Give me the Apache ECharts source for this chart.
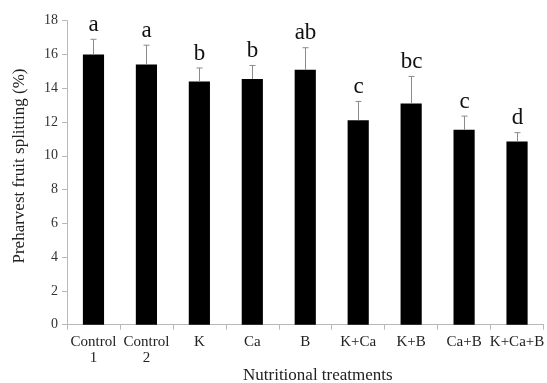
<!DOCTYPE html>
<html><head><meta charset="utf-8">
<script src="https://cdn.jsdelivr.net/npm/echarts@6/dist/echarts.min.js"></script>
<style>html,body{margin:0;padding:0;background:#fff}#c{width:547px;height:383px}</style>
</head><body><div id="c"></div>
<script>
var categories = ['Control\n1','Control\n2','K','Ca','B','K+Ca','K+B','Ca+B','K+Ca+B'];
var means = [16.0, 15.4, 14.4, 14.55, 15.1, 12.1, 13.1, 11.55, 10.85];
var errors = [0.9, 1.15, 0.8, 0.8, 1.3, 1.12, 1.6, 0.8, 0.52];
var letters = ['a','a','b','b','ab','c','bc','c','d'];
var yTicks = [0,2,4,6,8,10,12,14,16,18];

var chart = echarts.init(document.getElementById('c'));
var font = 'Liberation Serif';
chart.setOption({
  animation: false,
  textStyle: {fontFamily: font},
  grid: {left: 67, top: 20.7, width: 481, height: 304},
  xAxis: {
    type: 'category', data: categories,
    axisLine: {lineStyle: {color: '#b8b8b8', width: 1}},
    axisTick: {show: true, length: 5, lineStyle: {color: '#b8b8b8'}},
    axisLabel: {color: '#222', fontFamily: font, fontSize: 15, lineHeight: 16, margin: 9, interval: 0}
  },
  yAxis: {
    type: 'value', min: 0, max: 18, interval: 2,
    splitLine: {show: false},
    axisLine: {show: true, lineStyle: {color: '#b8b8b8', width: 1}},
    axisTick: {show: true, length: 5, lineStyle: {color: '#b8b8b8'}},
    axisLabel: {color: '#333', fontFamily: font, fontSize: 14, margin: 9,
      formatter: function(v){ return yTicks.indexOf(v) >= 0 ? String(v) : ''; }}
  },
  graphic: [
    {type: 'text', left: 243, top: 367, style: {text: 'Nutritional treatments', font: '17px "Liberation Serif"', fill: '#222'}},
    {type: 'text', x: 20, y: 166, rotation: Math.PI/2, style: {text: 'Preharvest fruit splitting (%)', font: '17px "Liberation Serif"', fill: '#222', textAlign: 'center', textVerticalAlign: 'middle'}}
  ],
  series: [
    {type: 'bar', data: means, barWidth: '40%', itemStyle: {color: '#000'}},
    {type: 'custom', data: means.map(function(m,i){return [i, m, m + errors[i]];}),
     renderItem: function(params, api){
       var base = api.coord([api.value(0), api.value(1)]);
       var top = api.coord([api.value(0), api.value(2)]);
       var x = Math.round(base[0]) + 0.5;
       return {type: 'group', children: [
         {type: 'line', shape: {x1: x, y1: base[1], x2: x, y2: top[1]}, style: {stroke: '#8a8a8a', lineWidth: 1}},
         {type: 'line', shape: {x1: x - 3, y1: top[1], x2: x + 3, y2: top[1]}, style: {stroke: '#8a8a8a', lineWidth: 1}},
         {type: 'text', style: {text: letters[params.dataIndex], x: x, y: top[1] - 3, textAlign: 'center', textVerticalAlign: 'bottom', font: '23px "Liberation Serif"', fill: '#111'}}
       ]};
     }, z: 5}
  ]
});
</script></body></html>
